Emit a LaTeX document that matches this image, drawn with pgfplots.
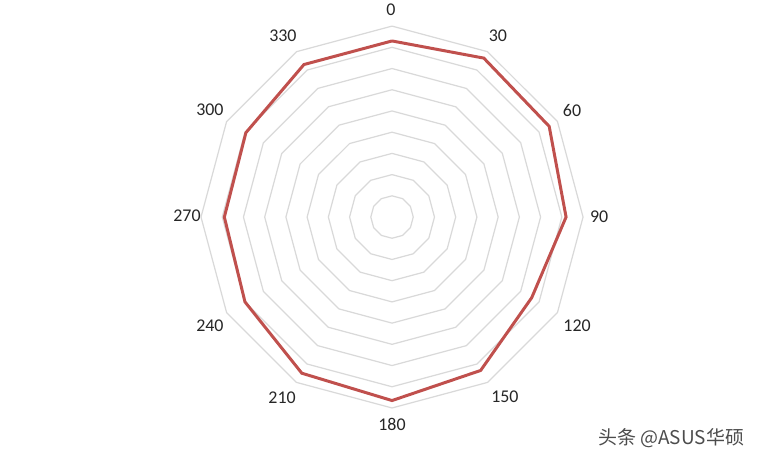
\documentclass[border=0pt]{standalone}
\usepackage{pgfplots}
\pgfplotsset{compat=1.18}
\usepackage{fontspec}
\setmainfont{Carlito}
\newfontfamily\cjk{Noto Sans CJK SC}
\definecolor{radarred}{HTML}{C0504D}
\definecolor{gridgray}{HTML}{D9D9D9}
\newcommand\lbl[3]{\node[font=\fontsize{5.1}{6}\selectfont, text=black!85, inner sep=0pt]
    at (axis cs:#2,#3) {#1};}
\begin{document}
\begin{tikzpicture}
\begin{axis}[
  width=7.66cm, height=4.61cm, scale only axis,
  xmin=-184.7, xmax=176.2, ymin=-115, ymax=102.3,
  hide axis, clip=false,
]
\path[draw=none] (rel axis cs:0,0) rectangle (rel axis cs:1,1);
% grid rings (regular dodecagons)
\pgfplotsinvokeforeach{10,20,30,40,50,60,70,80,90}{
  \addplot[gridgray, line width=0.35pt, data cs=polar] coordinates {
    (90,#1) (60,#1) (30,#1) (0,#1) (-30,#1) (-60,#1) (-90,#1) (-120,#1) (-150,#1) (-180,#1) (150,#1) (120,#1) (90,#1)};
}
% data series: angle (math, 0 at top, clockwise) , value
\addplot[radarred, line width=0.85pt, data cs=polar] coordinates {
  (90,83) (60,86.5) (30,85.5) (0,82) (-30,76) (-60,83.5) (-90,86.5)
  (-120,85) (-150,80) (-180,79) (150,79.5) (120,83) (90,83)};
% category labels
\lbl{0}{-0.5}{97.5}
\lbl{30}{49.9}{85.3}
\lbl{60}{84.8}{50.4}
\lbl{90}{97.6}{0}
\lbl{120}{87.2}{-51.4}
\lbl{150}{53.2}{-84.8}
\lbl{180}{0}{-97.6}
\lbl{210}{-51.8}{-85.3}
\lbl{240}{-85.8}{-51.4}
\lbl{270}{-96.6}{0.5}
\lbl{300}{-85.8}{50.4}
\lbl{330}{-51.4}{85.3}
\node[font=\cjk\fontsize{5.4}{6.5}\selectfont, text=black!70, inner sep=0pt]
  at (axis cs:131.5,-104.1) {头条 @ASUS华硕};
\end{axis}
\end{tikzpicture}
\end{document}
